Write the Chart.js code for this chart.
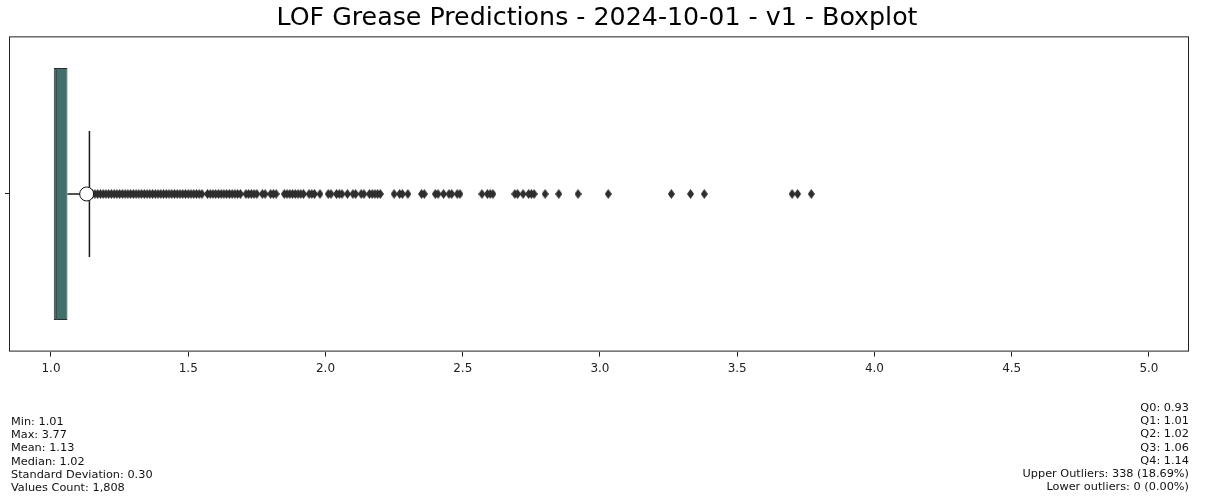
<!DOCTYPE html>
<html>
<head>
<meta charset="utf-8">
<script src="https://cdn.jsdelivr.net/npm/chart.js@4.4.0/dist/chart.umd.min.js"></script>
<style>
  html, body { margin: 0; padding: 0; background: #fff; }
  #wrap { position: relative; width: 1213px; height: 499px; }
  .stats {
    position: absolute;
    font-family: "DejaVu Sans", sans-serif;
    font-size: 11.3px;
    line-height: 13.2px;
    color: #111;
    white-space: pre;
  }
  #statsLeft { left: 11px; top: 415px; }
  #statsRight { right: 24px; top: 401px; text-align: right; }
</style>
</head>
<body>
<div id="wrap">
  <canvas id="boxChart"></canvas>
  <div class="stats" id="statsLeft"></div>
  <div class="stats" id="statsRight"></div>
</div>
<script>
// Summary statistics
const summaryLabels = ["Min", "Max", "Mean", "Median", "Standard Deviation", "Values Count"];
const summaryValues = [1.01, 3.77, 1.13, 1.02, 0.30, 1808];

// Q0..Q4 (Q0 = lower fence, Q4 = upper whisker end)
const quartileLabels = ["Q0", "Q1", "Q2", "Q3", "Q4"];
const quartileValues = [0.93, 1.01, 1.02, 1.06, 1.14];

const upperOutlierCount = 338;
const lowerOutlierCount = 0;

// Points past the upper whisker
const upperOutliers = [
  1.15, 1.16, 1.17, 1.18, 1.19, 1.20, 1.21, 1.22, 1.23, 1.24, 1.25, 1.26, 1.27, 1.28,
  1.29, 1.30, 1.31, 1.32, 1.33, 1.34, 1.35, 1.36, 1.37, 1.38, 1.39, 1.40, 1.41, 1.42,
  1.43, 1.44, 1.45, 1.46, 1.47, 1.48, 1.49, 1.50, 1.51, 1.52, 1.53, 1.54, 1.55,
  1.57, 1.58, 1.59, 1.60, 1.61, 1.62, 1.63, 1.64, 1.65, 1.66, 1.67, 1.68, 1.69,
  1.71, 1.72, 1.73, 1.74, 1.75, 1.77, 1.78, 1.80, 1.81, 1.82,
  1.85, 1.86, 1.87, 1.88, 1.89, 1.90, 1.91, 1.92, 1.94, 1.95, 1.96, 1.98,
  2.01, 2.02, 2.04, 2.05, 2.06, 2.08, 2.10, 2.11, 2.13, 2.14, 2.16, 2.17, 2.18, 2.19, 2.20,
  2.25, 2.27, 2.28, 2.30, 2.35, 2.36, 2.40, 2.41, 2.43, 2.45, 2.46, 2.48, 2.49,
  2.57, 2.59, 2.60, 2.61, 2.69, 2.70, 2.72, 2.74, 2.75, 2.76, 2.80, 2.85, 2.92, 3.03,
  3.26, 3.33, 3.38, 3.70, 3.72, 3.77
];

const xTicks = [1.0, 1.5, 2.0, 2.5, 3.0, 3.5, 4.0, 4.5, 5.0];
const xMin = 0.847;
const xMax = 5.146;

const fontFamily = '"DejaVu Sans", sans-serif';

const fmt = (v, d) => v.toLocaleString("en-US", { minimumFractionDigits: d, maximumFractionDigits: d });

document.getElementById("statsLeft").textContent = summaryLabels
  .map((l, i) => `${l}: ${l === "Values Count" ? fmt(summaryValues[i], 0) : fmt(summaryValues[i], 2)}`)
  .join("\n");

const total = summaryValues[5];
document.getElementById("statsRight").textContent = quartileLabels
  .map((l, i) => `${l}: ${fmt(quartileValues[i], 2)}`)
  .concat([
    `Upper Outliers: ${upperOutlierCount} (${fmt((upperOutlierCount / total) * 100, 2)}%)`,
    `Lower outliers: ${lowerOutlierCount} (${fmt((lowerOutlierCount / total) * 100, 2)}%)`
  ])
  .join("\n");

// thin diamond marker for the fliers
function thinDiamond(w, h, color) {
  const c = document.createElement("canvas");
  c.width = w;
  c.height = h;
  const g = c.getContext("2d");
  g.fillStyle = color;
  g.beginPath();
  g.moveTo(w / 2, 0);
  g.lineTo(w, h / 2);
  g.lineTo(w / 2, h);
  g.lineTo(0, h / 2);
  g.closePath();
  g.fill();
  return c;
}

// full frame around the plot area
const frame = {
  id: "frame",
  afterDraw(chart) {
    const { ctx, chartArea: a } = chart;
    ctx.save();
    ctx.strokeStyle = "#222";
    ctx.lineWidth = 1;
    ctx.strokeRect(a.left + 0.5, a.top + 0.5, a.right - a.left - 1, a.bottom - a.top - 1);
    ctx.restore();
  }
};

const [q0, q1, q2, q3, q4] = quartileValues;
const meanValue = summaryValues[2];
const lineColor = "#1a1a1a";

const segment = (pts, order, color, width) => ({
  type: "scatter",
  data: pts,
  showLine: true,
  pointRadius: 0,
  borderColor: color,
  borderWidth: width,
  order
});

new Chart(document.getElementById("boxChart"), {
  type: "scatter",
  data: {
    datasets: [
      {
        data: [{ x: meanValue, y: 0 }],
        pointStyle: "circle",
        pointRadius: 7,
        backgroundColor: "#fff",
        borderColor: "#111",
        borderWidth: 1,
        order: 0
      },
      {
        data: upperOutliers.map((v) => ({ x: v, y: 0 })),
        pointStyle: thinDiamond(7, 10, "#2e2e2e"),
        order: 1
      },
      segment([{ x: q4, y: -0.2 }, { x: q4, y: 0.2 }], 2, lineColor, 1.5),
      segment([{ x: q3, y: 0 }, { x: q4, y: 0 }], 3, lineColor, 1.5),
      segment([{ x: q2, y: -0.4 }, { x: q2, y: 0.4 }], 4, "#34514e", 1),
      {
        type: "bar",
        indexAxis: "y",
        data: [{ x: [q1, q3], y: 0 }],
        backgroundColor: "#41706c",
        borderColor: "#2b2b2b",
        borderWidth: 1,
        borderSkipped: false,
        barPercentage: 1,
        categoryPercentage: 0.8,
        order: 5
      }
    ]
  },
  options: {
    responsive: true,
    maintainAspectRatio: false,
    animation: false,
    events: [],
    layout: { padding: { left: 5, right: 24, top: 0, bottom: 118 } },
    plugins: {
      legend: { display: false },
      tooltip: { enabled: false },
      title: {
        display: true,
        text: "LOF Grease Predictions - 2024-10-01 - v1 - Boxplot",
        color: "#000",
        font: { family: fontFamily, size: 25.3, weight: "normal" },
        padding: { top: 3, bottom: 3 }
      }
    },
    scales: {
      x: {
        type: "linear",
        min: xMin,
        max: xMax,
        afterBuildTicks: (scale) => {
          scale.ticks = xTicks.map((v) => ({ value: v }));
        },
        ticks: {
          color: "#222",
          padding: 5,
          font: { family: fontFamily, size: 12 },
          callback: (v) => v.toFixed(1)
        },
        grid: { drawOnChartArea: false, tickLength: 5, tickColor: "#222" },
        border: { display: false }
      },
      y: {
        type: "linear",
        min: -0.5,
        max: 0.5,
        offset: false,
        afterBuildTicks: (scale) => {
          scale.ticks = [{ value: 0 }];
        },
        ticks: { padding: 0, callback: () => "" },
        grid: { offset: false, drawOnChartArea: false, tickLength: 4, tickColor: "#222" },
        border: { display: false }
      }
    }
  },
  plugins: [frame]
});
</script>
</body>
</html>
